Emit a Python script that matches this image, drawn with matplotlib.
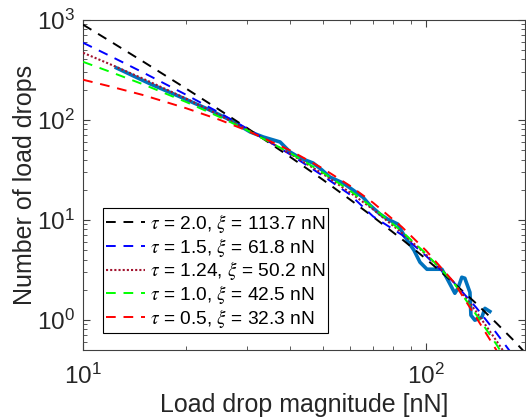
import numpy as np
import matplotlib
matplotlib.use("Agg")
import matplotlib.pyplot as plt

plt.rcParams['font.family'] = ['Liberation Sans', 'DejaVu Sans']
plt.rcParams['mathtext.fontset'] = 'stix'

# measured load drop counts (thick blue curve)
size_data = [12.5, 15.7, 19.2, 23.4, 26.8, 30.7, 33.5, 37.5, 40.1, 42.9, 46.8, 49.7,
             52.4, 57.2, 61.2, 65.4, 68.5, 73.3, 77.3, 82.7, 86.1, 89.6, 92.1, 95.9,
             100.5, 111.1, 114.9, 121.2, 123.7, 127.0, 129.6, 134.1, 135.0, 138.6,
             145.3, 148.3, 153.3]
count_data = [330, 228, 169, 125, 99.5, 75.4, 67.2, 59.9, 47.6, 41.4, 36.9, 31.4,
              26.7, 23.3, 19.8, 16.8, 14.0, 11.4, 10.1, 9.04, 7.01, 5.69, 4.96, 3.76,
              3.2, 3.2, 2.60, 1.84, 2.06, 2.66, 2.60, 1.88, 1.11, 0.99,
              1.06, 1.30, 1.21]

# fitted curves
size_fit = [10, 12, 15, 20, 25, 30, 40, 50, 60, 70, 85, 100, 120, 140, 160, 180, 200]
fit_tau20 = [891, 608, 379, 204, 125, 83, 42.8, 25.1, 15.9, 10.7, 6.38, 4.04, 2.35, 1.45, 0.93, 0.62, 0.42]
fit_tau15 = [588, 433, 295, 177, 117, 81.9, 45.3, 27.5, 17.8, 10.8, 7.05, 4.33, 2.39, 1.32, 0.74, 0.43, 0.26]
fit_tau124 = [467, 358, 256, 162, 111, 80.2, 46.0, 28.7, 18.7, 12.7, 7.37, 4.47, 2.40, 1.20, 0.62, 0.34, 0.19]
fit_tau10 = [379, 301, 225, 150, 106.5, 78.9, 46.8, 29.6, 19.5, 13.2, 7.63, 4.56, 2.37, 1.12, 0.57, 0.30, 0.16]
fit_tau05 = [251, 215, 176, 130, 99.8, 78.0, 49.6, 32.5, 21.8, 14.8, 8.45, 4.90, 2.41, 1.05, 0.50, 0.25, 0.12]

labels = [r'$\tau$ = 2.0, $\xi$ = 113.7 nN',
          r'$\tau$ = 1.5, $\xi$ = 61.8 nN',
          r'$\tau$ = 1.24, $\xi$ = 50.2 nN',
          r'$\tau$ = 1.0, $\xi$ = 42.5 nN',
          r'$\tau$ = 0.5, $\xi$ = 32.3 nN']

fig = plt.figure(figsize=(5.26, 4.19), dpi=100)
ax = fig.add_axes([0.158, 0.165, 0.84, 0.788])

ax.plot(size_data, count_data, color='#0072BD', lw=2.6, zorder=2)
ax.plot(size_fit, fit_tau20, color='k', ls=(0, (5, 4)), lw=1.4, label=labels[0], zorder=3)
ax.plot(size_fit, fit_tau15, color='#0000FF', ls=(0, (5, 4)), lw=1.4, label=labels[1], zorder=3)
ax.plot(size_fit, fit_tau124, color='#A2142F', ls=(0, (1, 1)), lw=1.5, label=labels[2], zorder=3)
ax.plot(size_fit, fit_tau10, color='#00FF00', ls=(0, (5, 4)), lw=1.4, label=labels[3], zorder=3)
ax.plot(size_fit, fit_tau05, color='#FF0000', ls=(0, (5, 4)), lw=1.4, label=labels[4], zorder=3)

ax.set_xscale('log')
ax.set_yscale('log')
ax.set_xlim(10, 194)
ax.set_ylim(0.5, 1000)

for s in ax.spines.values():
    s.set_color('#404040')
    s.set_linewidth(0.8)
ax.tick_params(which='both', direction='in', top=True, right=True, colors='#404040',
               labelcolor='#262626', labelsize=17.5)
ax.tick_params(which='major', length=5, pad=10)
ax.tick_params(which='minor', length=3)
ax.tick_params(axis='y', which='major', pad=6)

ax.set_xlabel('Load drop magnitude [nN]', fontsize=18, color='#262626', labelpad=3)
ax.set_ylabel('Number of load drops', fontsize=18, color='#262626', labelpad=0)

leg = ax.legend(loc='lower left', bbox_to_anchor=(0.045, 0.05), borderaxespad=0,
                fontsize=13.8, fancybox=False, framealpha=1, edgecolor='k',
                handlelength=2.0, handletextpad=0.25, labelspacing=0.04,
                borderpad=0.18)
leg.get_frame().set_linewidth(0.8)

fig.savefig('out.png', dpi=100)
